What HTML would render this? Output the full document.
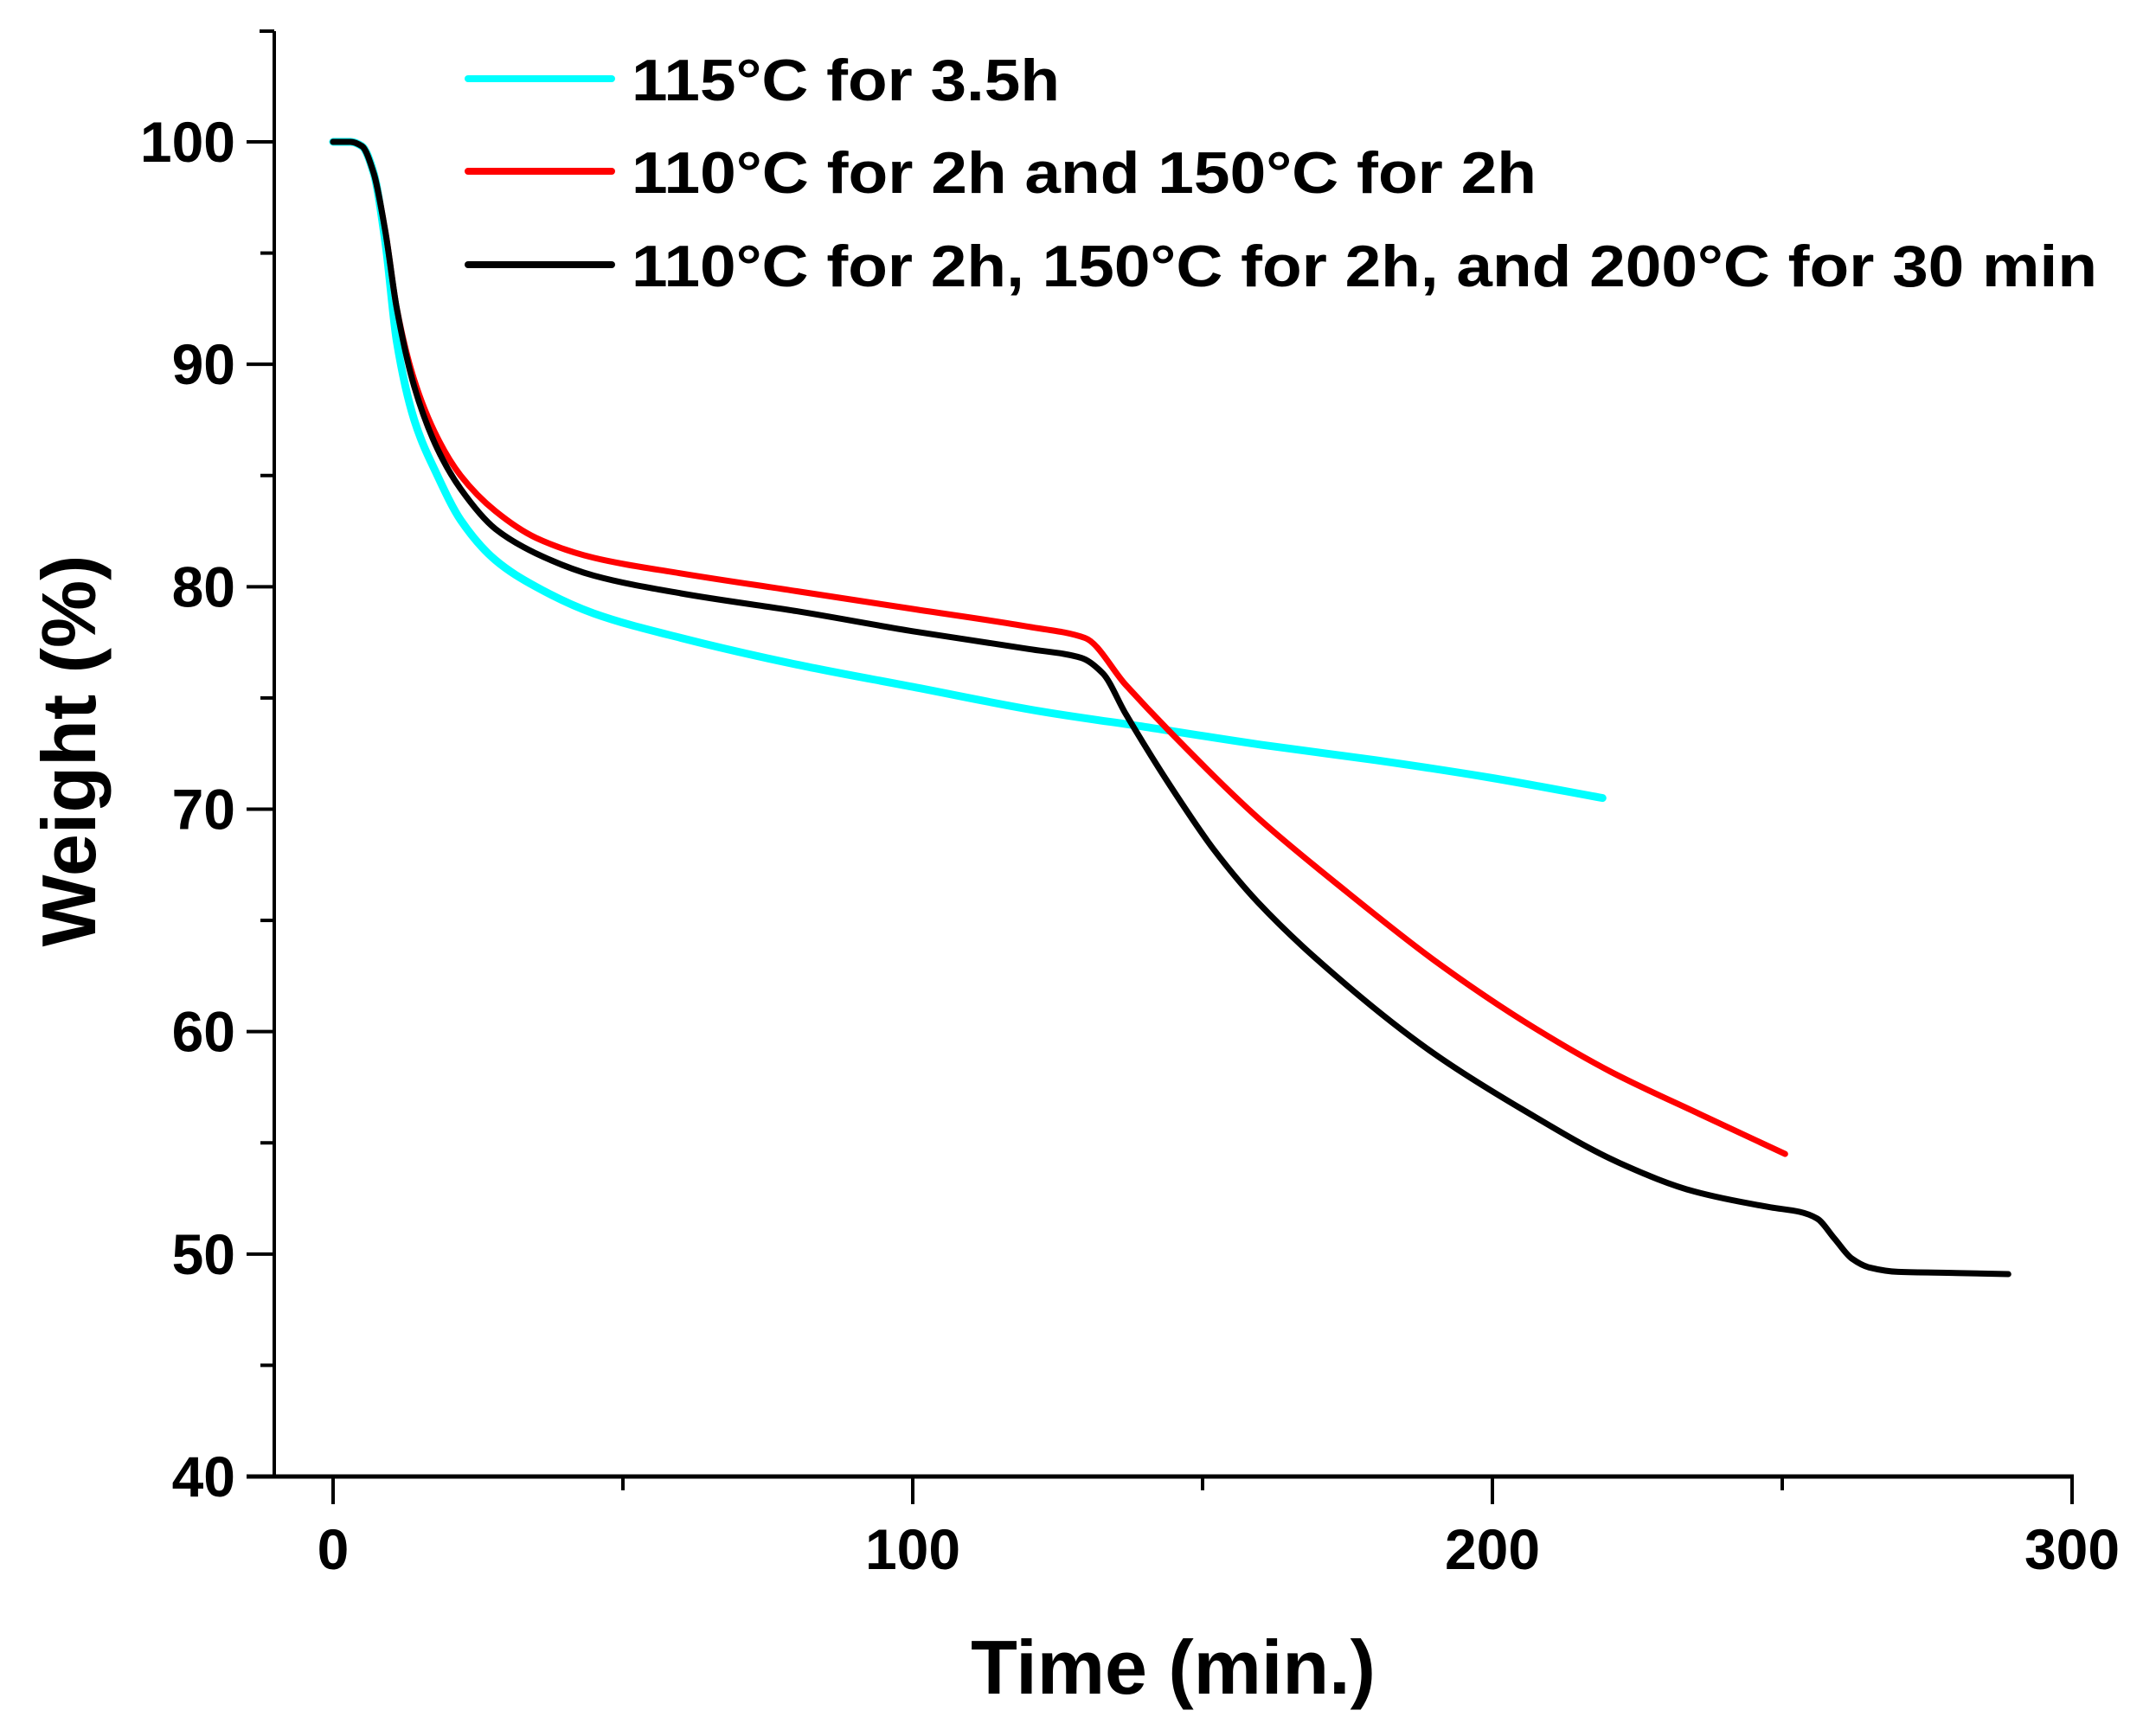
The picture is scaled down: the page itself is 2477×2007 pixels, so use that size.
<!DOCTYPE html>
<html><head><meta charset="utf-8"><style>
html,body{margin:0;padding:0;background:#fff;}
svg{display:block;font-family:"Liberation Sans",Arial,sans-serif;font-weight:bold;}
</style></head><body>
<svg id="chart" width="2477" height="2007" viewBox="0 0 2477 2007" xmlns="http://www.w3.org/2000/svg">
<g id="axes"></g>
<g id="series"></g>
<g id="legend"></g>
<text x="1356" y="1958" text-anchor="middle" font-size="88">Time (min.)</text>
<text transform="translate(110,868) rotate(-90)" text-anchor="middle" font-size="88">Weight (%)</text>
</svg>
<script>
const xTicks=[0,100,200,300];
const xMinor=[50,150,250];
const yTicks=[40,50,60,70,80,90,100];
const yMinor=[45,55,65,75,85,95];
const seriesNames=["115°C for 3.5h","110°C for 2h and 150°C for 2h","110°C for 2h, 150°C for 2h, and 200°C for 30 min"];
const seriesColors=["#00ffff","#ff0000","#000000"];
const cyanT=[0,3,5,7,9,11,14,18,22,28,35,45,60,80,100,122,140,160,180,200,219];
const cyanV=[100,100,99.8,98.6,95.5,91,87.5,85,83,81.2,80,78.8,77.7,76.5,75.5,74.4,73.7,72.9,72.2,71.4,70.5];
const redT=[0,3,5,7,9,11,14,18,22,28,35,45,60,80,100,120,129.7,136.7,144.3,159.6,174.8,190,205.2,220.4,235.7,250.5];
const redV=[100,100,99.8,98.6,96,92.5,89.3,86.7,85,83.4,82.2,81.3,80.6,79.8,79,78.2,77.7,75.6,73.5,69.6,66.3,63.2,60.5,58.2,56.3,54.5];
const blackT=[0,3,5,7,9,11,14,18,22,28,35,45,60,80,100,120,129.1,132.8,136.7,144.3,151.9,159.6,174.8,190,205.2,221.9,235,248,253,256,259,262,265,270,280,289];
const blackV=[100,100,99.8,98.6,96,92.5,89,86.2,84.4,82.6,81.5,80.5,79.7,78.9,78,77.2,76.8,76.1,74.3,71.1,68.2,65.8,62.1,59.0,56.5,54.1,52.8,52.1,51.9,51.6,50.7,49.8,49.4,49.2,49.15,49.1];
const seriesT=[cyanT,redT,blackT];
const seriesV=[cyanV,redV,blackV];
const NS="http://www.w3.org/2000/svg";
const X0=385,X1=2395,XMIN=0,XMAX=300;
const Y0=1707,YTOP=36;
function sx(t){return X0+(t-XMIN)*(X1-X0)/(XMAX-XMIN);}
function sy(v){return 164+(100-v)*(1707-164)/60;}
function mk(tag,attrs,parent){const e=document.createElementNS(NS,tag);for(const k in attrs)e.setAttribute(k,attrs[k]);parent.appendChild(e);return e;}
const axes=document.getElementById('axes');
let e;
e=mk('line',{x1:317,y1:YTOP,x2:317,y2:Y0,stroke:'#000','stroke-width':4},axes);


e=mk('line',{x1:300,y1:YTOP,x2:317,y2:YTOP,stroke:'#000','stroke-width':4},axes);


e=mk('line',{x1:285,y1:Y0,x2:X1+2,y2:Y0,stroke:'#000','stroke-width':5},axes);


yTicks.forEach(v=>{
 e=mk('line',{x1:285,y1:sy(v),x2:317,y2:sy(v),stroke:'#000','stroke-width':4},axes);
 
 
 e=mk('text',{x:272,y:sy(v)+23,'text-anchor':'end','font-size':66},axes);
 e.textContent=v;
 
 
});
yMinor.forEach(v=>{
 e=mk('line',{x1:301,y1:sy(v),x2:317,y2:sy(v),stroke:'#000','stroke-width':4},axes);
 
 
});
xTicks.forEach(t=>{
 e=mk('line',{x1:sx(t),y1:Y0,x2:sx(t),y2:Y0+32,stroke:'#000','stroke-width':4},axes);
 
 
 e=mk('text',{x:sx(t),y:1814,'text-anchor':'middle','font-size':66},axes);
 e.textContent=t;
 
 
});
xMinor.forEach(t=>{
 e=mk('line',{x1:sx(t),y1:Y0,x2:sx(t),y2:Y0+16,stroke:'#000','stroke-width':4},axes);
 
 
});
function monotonePath(pts){
 const n=pts.length;const dx=[],m=[],tg=new Array(n);
 for(let i=0;i<n-1;i++){dx[i]=pts[i+1][0]-pts[i][0];m[i]=(pts[i+1][1]-pts[i][1])/dx[i];}
 tg[0]=m[0];tg[n-1]=m[n-2];
 for(let i=1;i<n-1;i++){tg[i]=(m[i-1]*m[i]<=0)?0:(dx[i-1]+dx[i])*3/((2*dx[i]+dx[i-1])/m[i-1]+(dx[i]+2*dx[i-1])/m[i]);}
 let d='M'+pts[0][0].toFixed(1)+','+pts[0][1].toFixed(1);
 for(let i=0;i<n-1;i++){
  const h=dx[i]/3;
  d+=' C'+(pts[i][0]+h).toFixed(1)+','+(pts[i][1]+tg[i]*h).toFixed(1)+' '+(pts[i+1][0]-h).toFixed(1)+','+(pts[i+1][1]-tg[i+1]*h).toFixed(1)+' '+pts[i+1][0].toFixed(1)+','+pts[i+1][1].toFixed(1);
 }
 return d;
}
const sg=document.getElementById('series');
const sNames=['series-115c-3-5h','series-110c-150c','series-110c-150c-200c'];
[0,1,2].forEach(i=>{
 const T=seriesT[i],V=seriesV[i];
 const pts=T.map((t,j)=>[sx(t),sy(V[j])]);
 e=mk('path',{d:monotonePath(pts),fill:'none',stroke:seriesColors[i],'stroke-width':i==0?9:7,'stroke-linecap':'round','stroke-linejoin':'round'},sg);
 
 
});
const lg=document.getElementById('legend');
const ly=[91,198,306];
const lw=[495,1046,1694];
[0,1,2].forEach(i=>{
 e=mk('line',{x1:541,y1:ly[i],x2:707,y2:ly[i],stroke:seriesColors[i],'stroke-width':8,'stroke-linecap':'round'},lg);
 
 
 e=mk('text',{x:730,y:ly[i]+25,'font-size':68,textLength:lw[i],lengthAdjust:'spacingAndGlyphs'},lg);
 e.textContent=seriesNames[i];
 
 
});
</script>
</body></html>
